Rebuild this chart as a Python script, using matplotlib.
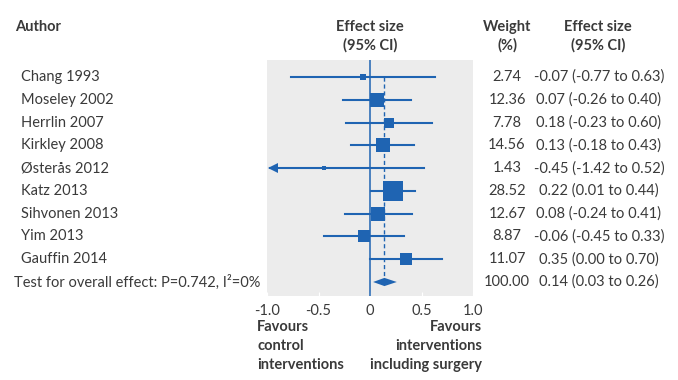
import matplotlib
matplotlib.use("Agg")
import matplotlib.pyplot as plt
from matplotlib.transforms import blended_transform_factory
import numpy as np

# study data
authors = ["Chang 1993", "Moseley 2002", "Herrlin 2007", "Kirkley 2008", "Østerås 2012",
           "Katz 2013", "Sihvonen 2013", "Yim 2013", "Gauffin 2014"]
effect = [-0.07, 0.07, 0.18, 0.13, -0.45, 0.22, 0.08, -0.06, 0.35]
ci_low = [-0.77, -0.26, -0.23, -0.18, -1.42, 0.01, -0.24, -0.45, 0.00]
ci_high = [0.63, 0.40, 0.60, 0.43, 0.52, 0.44, 0.41, 0.33, 0.70]
weight = [2.74, 12.36, 7.78, 14.56, 1.43, 28.52, 12.67, 8.87, 11.07]

overall_effect = 0.14
overall_low = 0.03
overall_high = 0.26
overall_label = "Test for overall effect: P=0.742, I²=0%"

xticks = [-1.0, -0.5, 0, 0.5, 1.0]
xticklabels = ["-1.0", "-0.5", "0", "0.5", "1.0"]

blue = "#1f64b2"
grey_bg = "#ececec"
txt = "#3a3a3a"

plt.rcParams["font.family"] = ["Lato", "DejaVu Sans"]
plt.rcParams["font.size"] = 10.5

fig = plt.figure(figsize=(6.78, 3.8), dpi=100)
ax = fig.add_axes([267 / 678, 1 - 296 / 380, 206 / 678, 236 / 380])
ax.set_facecolor(grey_bg)
for s in ax.spines.values():
    s.set_visible(False)

n = len(authors)
ax.set_xlim(-1, 1)
ax.set_ylim(n + 0.615, -0.746)

# no-effect line and overall effect dashed line
ax.axvline(0, color=blue, lw=1.1, zorder=2)
ax.vlines(overall_effect, 0, n - 0.2, color=blue, lw=1.0, ls=(0, (3, 2)), zorder=2)

xmin = ax.get_xlim()[0]
for i in range(n):
    lo = ci_low[i]
    if lo < xmin:
        tip = xmin + 0.03
        ax.plot([tip, ci_high[i]], [i, i], color=blue, lw=1.5, zorder=3)
        ax.plot(tip + 0.03, i, marker="<", color=blue, ms=6.5, mew=0, zorder=3)
    else:
        ax.plot([lo, ci_high[i]], [i, i], color=blue, lw=1.5, zorder=3)
    ax.plot(effect[i], i, marker="s", color=blue, mew=0,
            ms=2.79 * np.sqrt(weight[i]), zorder=4)

# overall diamond
ax.fill([overall_low, overall_effect, overall_high, overall_effect],
        [n, n - 0.18, n, n + 0.18], color=blue, lw=0, zorder=4)

ax.set_xticks(xticks)
ax.set_xticklabels(xticklabels, color=txt)
ax.tick_params(axis="x", length=3, direction="in", color="white", pad=6, labelsize=10.5)
ax.set_yticks([])

tr = blended_transform_factory(fig.transFigure, ax.transData)
for i in range(n):
    ax.text(21 / 678, i, authors[i], transform=tr, ha="left", va="center", color=txt, clip_on=False)
    ax.text(507 / 678, i, f"{weight[i]:.2f}", transform=tr, ha="center", va="center", color=txt, clip_on=False)
    ax.text(599 / 678, i, f"{effect[i]:.2f} ({ci_low[i]:.2f} to {ci_high[i]:.2f})",
            transform=tr, ha="center", va="center", color=txt, clip_on=False)

ax.text(14 / 678, n, overall_label, transform=tr, ha="left", va="center", color=txt, clip_on=False)
ax.text(507 / 678, n, f"{sum(weight):.2f}", transform=tr, ha="center", va="center", color=txt, clip_on=False)
ax.text(599 / 678, n, f"{overall_effect:.2f} ({overall_low:.2f} to {overall_high:.2f})",
        transform=tr, ha="center", va="center", color=txt, clip_on=False)

# column headers
fig.text(15 / 678, 1 - 27 / 380, "Author", ha="left", va="center", weight="bold", color=txt)
fig.text(370 / 678, 1 - 27 / 380, "Effect size", ha="center", va="center", weight="bold", color=txt)
fig.text(370 / 678, 1 - 45 / 380, "(95% CI)", ha="center", va="center", weight="bold", color=txt)
fig.text(507 / 678, 1 - 27 / 380, "Weight", ha="center", va="center", weight="bold", color=txt)
fig.text(507 / 678, 1 - 45 / 380, "(%)", ha="center", va="center", weight="bold", color=txt)
fig.text(598 / 678, 1 - 27 / 380, "Effect size", ha="center", va="center", weight="bold", color=txt)
fig.text(598 / 678, 1 - 45 / 380, "(95% CI)", ha="center", va="center", weight="bold", color=txt)

# favours labels
fig.text(257 / 678, 1 - 346 / 380, "Favours\ncontrol\ninterventions", ha="left", va="center",
         weight="bold", color=txt, linespacing=1.42)
fig.text(482 / 678, 1 - 346 / 380, "Favours\ninterventions\nincluding surgery", ha="right", va="center",
         weight="bold", color=txt, linespacing=1.42, multialignment="right")

fig.savefig("out.png", dpi=100)
